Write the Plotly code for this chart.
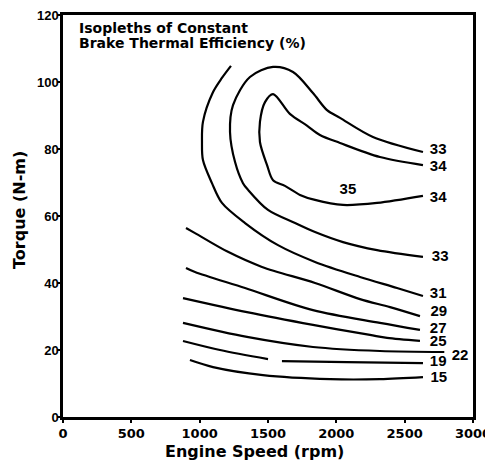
import plotly.graph_objects as go

# Isopleth curves: engine speed (rpm) and torque (N-m)
rpm_31 = [1229, 1163, 1098, 1024, 1017, 1024, 1090, 1163, 1332, 1573, 1844, 2173, 2444, 2634]
nm_31 = [104.8, 101.2, 97.0, 88.1, 82.1, 76.7, 69.8, 63.9, 57.9, 51.3, 46.3, 41.8, 38.5, 36.1]

rpm_33 = [2634, 2268, 2027, 1932, 1829, 1683, 1537, 1368, 1244, 1222, 1259, 1317, 1354, 1500, 1698, 1844, 2049, 2298, 2634]
nm_33 = [79.1, 83.6, 89.3, 91.6, 96.7, 103.0, 104.5, 101.5, 93.1, 85.1, 76.1, 69.8, 67.8, 61.8, 57.9, 55.2, 52.2, 49.8, 47.8]

rpm_34 = [2634, 2319, 2027, 1880, 1785, 1660, 1537, 1478, 1441, 1441, 1493, 1537, 1624, 1734, 1844, 2049, 2298, 2634]
nm_34 = [75.2, 77.6, 81.8, 84.2, 87.0, 90.5, 96.4, 94.0, 88.1, 82.1, 75.2, 70.7, 69.0, 66.3, 64.8, 63.3, 63.9, 66.0]

rpm_29 = [900, 966, 1207, 1456, 1844, 2173, 2393, 2612]
nm_29 = [56.4, 54.9, 49.3, 44.8, 40.0, 35.2, 32.8, 30.1]

rpm_27 = [900, 966, 1332, 1829, 2319, 2612]
nm_27 = [44.5, 43.3, 38.5, 31.9, 28.1, 26.0]

rpm_25 = [878, 1346, 1829, 2246, 2371, 2612]
nm_25 = [35.5, 31.3, 27.5, 24.5, 23.6, 22.7]

rpm_22 = [878, 1346, 1829, 2319, 2790]
nm_22 = [28.1, 23.9, 20.9, 19.7, 19.4]

rpm_19 = [878, 1149, 1500, None, 1602, 2078, 2634]
nm_19 = [22.7, 20.0, 17.3, None, 16.7, 16.4, 16.1]

rpm_15 = [929, 1098, 1463, 1954, 2319, 2634]
nm_15 = [17.0, 14.9, 12.5, 11.3, 11.3, 11.9]

curves = [
    (rpm_31, nm_31), (rpm_33, nm_33), (rpm_34, nm_34), (rpm_29, nm_29),
    (rpm_27, nm_27), (rpm_25, nm_25), (rpm_22, nm_22), (rpm_19, nm_19),
    (rpm_15, nm_15),
]

# Contour labels
label_text = ["33", "34", "35", "34", "33", "31", "29", "27", "25", "22", "19", "15"]
label_rpm = [2745, 2745, 2085, 2745, 2760, 2745, 2750, 2745, 2745, 2905, 2745, 2750]
label_nm = [79.7, 74.6, 67.8, 65.4, 47.6, 36.7, 31.3, 26.3, 22.4, 18.2, 16.4, 11.6]

x_ticks = [0, 500, 1000, 1500, 2000, 2500, 3000]
y_ticks = [0, 20, 40, 60, 80, 100, 120]

FONT = "Liberation Sans"
WIDE = "DejaVu Sans"

fig = go.Figure()
for xs, ys in curves:
    fig.add_trace(go.Scatter(
        x=xs, y=ys, mode="lines", connectgaps=False,
        line=dict(color="black", width=2.2, shape="spline", smoothing=0.9),
        showlegend=False, hoverinfo="skip",
    ))

fig.add_trace(go.Scatter(
    x=label_rpm, y=label_nm, mode="text", text=label_text,
    textfont=dict(family=FONT, size=15, color="black", weight="bold"),
    showlegend=False, hoverinfo="skip",
))

annotations = [
    dict(text="Isopleths of Constant", x=0.034, y=0.968, xref="paper", yref="paper",
         xanchor="left", yanchor="middle", showarrow=False,
         font=dict(family=WIDE, size=14, color="black", weight="bold")),
    dict(text="Brake Thermal Efficiency (%)", x=0.034, y=0.930, xref="paper", yref="paper",
         xanchor="left", yanchor="middle", showarrow=False,
         font=dict(family=WIDE, size=14, color="black", weight="bold")),
    dict(text="Engine Speed (rpm)", x=0.468, y=-0.087, xref="paper", yref="paper",
         xanchor="center", yanchor="middle", showarrow=False,
         font=dict(family=WIDE, size=16, color="black", weight="bold")),
    dict(text="Torque (N-m)", x=-0.105, y=0.515, xref="paper", yref="paper",
         xanchor="center", yanchor="middle", showarrow=False, textangle=-90,
         font=dict(family=WIDE, size=16, color="black", weight="bold")),
]

axis_common = dict(
    showline=True, linecolor="black", linewidth=2.5, mirror=True,
    ticks="outside", ticklen=3, tickwidth=2, tickcolor="black",
    showgrid=False, zeroline=False, automargin=False,
    ticklabeloverflow="allow",
)

fig.update_layout(
    width=485, height=456,
    margin=dict(l=55, r=20, t=7, b=47),
    paper_bgcolor="white", plot_bgcolor="white",
    xaxis=dict(range=[0, 3000], tickvals=x_ticks,
               tickfont=dict(family=WIDE, size=13, color="black", weight="bold"),
               **axis_common),
    yaxis=dict(range=[0, 120], tickvals=y_ticks, ticklabelstandoff=-4,
               tickfont=dict(family=FONT, size=13, color="black", weight="bold"),
               **axis_common),
    annotations=annotations,
)

fig.write_html("out.html")
